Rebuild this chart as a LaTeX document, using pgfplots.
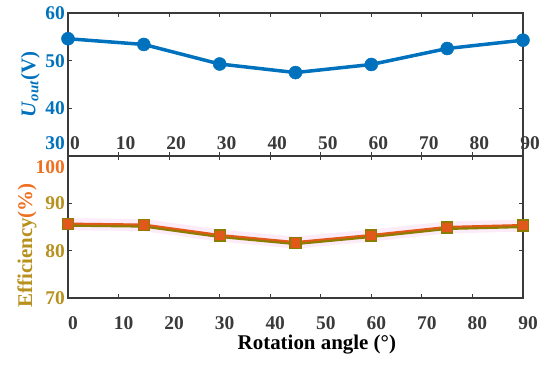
\documentclass[border=0pt]{standalone}
\usepackage{fontspec}
\setmainfont{Liberation Serif}
\usepackage{pgfplots}
\pgfplotsset{compat=1.18}
\definecolor{mblue}{HTML}{0072BD}
\definecolor{morange}{HTML}{E0581A}
\definecolor{molive}{HTML}{8C7D00}
\definecolor{mgold}{HTML}{B8901E}
\definecolor{tickgray}{HTML}{3A3A3A}
\definecolor{lblorange}{HTML}{EE7020}
\definecolor{halo}{HTML}{FBE3F6}
\begin{document}
\begin{tikzpicture}
\path[use as bounding box] (-68bp,-69bp) rectangle (482bp,298bp);
\pgfplotsset{
 common/.style={
  scale only axis, width=455bp, xmin=0, xmax=90, xtick={0,10,...,90},
  axis line style={tickgray, line width=1.2bp},
  tick style={tickgray, line width=1bp}, major tick length=4bp,
  tick align=inside,
  /pgf/number format/assume math mode=true,
  tick label style={font=\fontsize{19.5}{19.5}\selectfont\bfseries},
  xticklabel style={tickgray},
  clip=false,
 }
}
% top axis
\begin{axis}[common, at={(0,142bp)}, anchor=south west, height=143bp,
  ymin=30, ymax=60, ytick={40,50,60},
  yticklabel style={mblue, anchor=east, inner sep=0pt, xshift=-3bp},
  extra y ticks={30},
  extra y tick style={yticklabel style={yshift=13bp}},
  xticklabel style={anchor=center, yshift=13bp, xshift=7bp, inner sep=0pt},
  ylabel={\textbf{\textit{U}\textsubscript{\textit{out}}(V)}},
  ylabel style={mblue, font=\fontsize{21}{21}\selectfont, at={(axis description cs:-0.083,0.5)}, anchor=center},
]
\addplot[mblue, line width=3.5bp, mark=*, mark size=6.5bp, mark options={fill=mblue, draw=mblue, line width=0.5bp}]
 coordinates {(0,54.6) (15,53.4) (30,49.3) (45,47.5) (60,49.2) (75,52.55) (90,54.3)};
\end{axis}
% bottom axis
\begin{axis}[common, at={(0,0)}, anchor=south west, height=142bp,
  ymin=70, ymax=100, ytick={70,80,90},
  yticklabel style={mgold, anchor=east, inner sep=0pt, xshift=-3bp},
  extra y ticks={100},
  extra y tick style={yticklabel style={lblorange, yshift=-11bp}},
  xticklabel style={anchor=center, yshift=-25bp, xshift=5bp, inner sep=0pt},
  xlabel={\textbf{Rotation angle (°)}},
  xlabel style={black, font=\fontsize{21}{21}\selectfont, at={(axis description cs:0.547,0)}, anchor=center, yshift=-47bp, inner sep=0pt},
  ylabel={\textbf{{\color{mgold}Efficiency}{\color{lblorange}(\%)}}},
  ylabel style={font=\fontsize{21}{21}\selectfont, at={(axis description cs:-0.090,0.37)}, anchor=center},
]
\addplot[halo, line width=12bp, forget plot, opacity=0.7]
 coordinates {(0,85.6) (15,85.4) (30,83.2) (45,81.7) (60,83.2) (75,84.9) (90,85.3)};
\addplot[molive, line width=3.5bp, forget plot, yshift=-0.8bp]
 coordinates {(0,85.6) (15,85.4) (30,83.2) (45,81.7) (60,83.2) (75,84.9) (90,85.3)};
\addplot[morange, line width=2bp, yshift=0.6bp, mark=square*, mark size=5.5bp, mark options={fill=morange, draw=molive, line width=1.2bp, yshift=-0.6bp}]
 coordinates {(0,85.6) (15,85.4) (30,83.2) (45,81.7) (60,83.2) (75,84.9) (90,85.3)};
\end{axis}
\end{tikzpicture}
\end{document}
